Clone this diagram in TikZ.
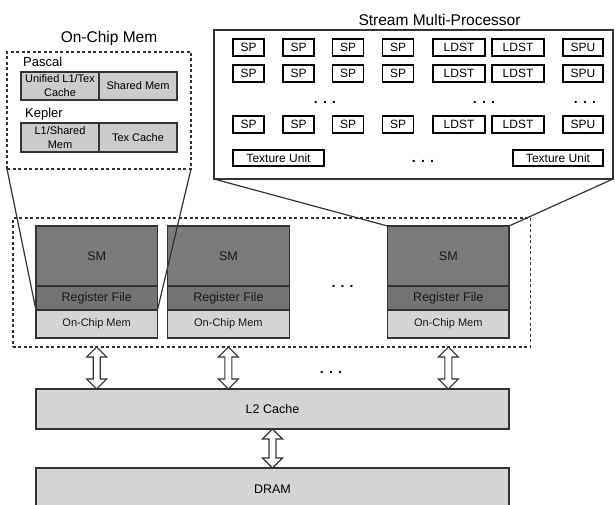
\documentclass[tikz,border=0pt]{standalone}
\usepackage{fontspec}
\setmainfont{Liberation Sans}
\usetikzlibrary{positioning, calc}

\definecolor{edgegray}{HTML}{333333}
\definecolor{smgray}{HTML}{7B7B7B}
\definecolor{rfgray}{HTML}{737373}
\definecolor{memgray}{HTML}{D4D4D4}
\definecolor{cellgray}{HTML}{CBCBCB}

% outline double arrow between two points on one vertical
\newcommand{\memarrow}[2]{%
  \path[draw=edgegray, fill=white, line width=1.1pt, line join=miter]
    let \p1=(#1), \p2=(#2) in
    (\x1,\y1) -- ++(10pt,-10pt) -- ++(-6.5pt,0pt) -- (\x1+3.5pt,\y2+10pt)
    -- ++(6.5pt,0pt) -- (\x1,\y2) -- ++(-10pt,10pt) -- ++(6.5pt,0pt)
    -- (\x1-3.5pt,\y1-10pt) -- ++(-6.5pt,0pt) -- cycle;}

\begin{document}
\begin{tikzpicture}[x=1pt, y=-1pt,
    title/.style={font=\fontsize{15.5}{18}\selectfont, inner sep=0pt},
    dashbox/.style={draw=edgegray, line width=1.2pt, dash pattern=on 3pt off 2.5pt, outer sep=0pt},
    framebox/.style={draw=edgegray, line width=1.3pt, outer sep=0pt},
    unitbox/.style={draw=black, line width=1.2pt, fill=white, minimum height=17, inner sep=0pt, outer sep=0pt, font=\fontsize{12}{14}\selectfont},
    memcell/.style={draw=edgegray, line width=1.2pt, fill=cellgray, minimum width=78, inner sep=0pt, outer sep=0pt, align=center, font=\fontsize{11}{14}\selectfont},
    smpart/.style={draw=edgegray, line width=1.2pt, minimum width=121.5, inner sep=0pt, outer sep=0pt, text=black!90},
    smblock/.style={smpart, fill=smgray, minimum height=60, font=\fontsize{12.5}{14}\selectfont},
    rfblock/.style={smpart, fill=rfgray, minimum height=24, font=\fontsize{12.5}{14}\selectfont},
    ocmblock/.style={smpart, fill=memgray, minimum height=28, font=\fontsize{11}{14}\selectfont},
    memblock/.style={draw=edgegray, line width=1.2pt, fill=memgray, minimum width=473, inner sep=0pt, outer sep=0pt, font=\fontsize{12.5}{14}\selectfont},
    dots/.style={font=\fontsize{14}{14}\bfseries, inner sep=0pt},
    label/.style={font=\fontsize{13}{15}\selectfont, inner sep=0pt, anchor=west},
    zoomline/.style={draw=edgegray, line width=1.2pt}
  ]
    \useasboundingbox (0,0) rectangle (615,505);

    % On-chip memory detail
    \node[title] (onchiptitle) at (109,38) {On-Chip Mem};
    \node[dashbox, minimum width=184, minimum height=117] (onchip) at (99,110.5) {};
    \node[label] (pascal) at (23,62) {Pascal};
    \node[memcell, minimum height=28] (unified) at (60,86) {Unified L1/Tex\\Cache};
    \node[memcell, minimum height=28, right=0pt of unified] (pshared) {Shared Mem};
    \node[label] (kepler) at (25,114) {Kepler};
    \node[memcell, minimum height=29] (l1shared) at (60,137.5) {L1/Shared\\Mem};
    \node[memcell, minimum height=29, right=0pt of l1shared] (texcache) {Tex Cache};

    % Stream multi-processor detail
    \node[title] (smptitle) at (439.5,19.5) {Stream Multi-Processor};
    \node[framebox, minimum width=399, minimum height=149] (smp) at (413.5,104.5) {};
    \foreach \y [count=\r] in {47.5,73.5,124.5} {
      \foreach \x [count=\c] in {248.5,298.5,348,398}
        \node[unitbox, minimum width=31] (sp\r\c) at (\x,\y) {SP};
      \node[unitbox, minimum width=52] (ldsta\r) at (459,\y) {LDST};
      \node[unitbox, minimum width=52] (ldstb\r) at (518,\y) {LDST};
      \node[unitbox, minimum width=40] (spu\r) at (583,\y) {SPU};
    }
    \node[dots] (spdots) at (325,102) {. . .};
    \node[dots] (ldstdots) at (484,102) {. . .};
    \node[dots] (spudots) at (585,102) {. . .};
    \node[unitbox, minimum width=91, minimum height=16] (texunit1) at (278.5,158) {Texture Unit};
    \node[unitbox, minimum width=90, minimum height=16] (texunit2) at (558,158) {Texture Unit};
    \node[dots] (texdots) at (423,161) {. . .};

    % Streaming multiprocessors
    \node[dashbox, minimum width=517.6, minimum height=129] (gpc) at (271.7,282.5) {};
    \node[smblock] (sm1) at (96.7,256) {SM};
    \node[rfblock, below=0pt of sm1] (rf1) {Register File};
    \node[ocmblock, below=0pt of rf1] (ocm1) {On-Chip Mem};
    \node[smblock, right=10.2pt of sm1] (sm2) {SM};
    \node[rfblock, below=0pt of sm2] (rf2) {Register File};
    \node[ocmblock, below=0pt of rf2] (ocm2) {On-Chip Mem};
    \node[smblock] (sm3) at (448.3,256) {SM};
    \node[rfblock, below=0pt of sm3] (rf3) {Register File};
    \node[ocmblock, below=0pt of rf3] (ocm3) {On-Chip Mem};
    \node[dots] (smdots) at (342.6,286) {. . .};

    % Zoom lines
    \draw[zoomline] (onchip.south west) -- (rf1.south west);
    \draw[zoomline] (onchip.south east) -- (rf1.south east);
    \draw[zoomline] (smp.south west) -- (sm3.north west);
    \draw[zoomline] (smp.south east) -- (sm3.north east);

    % Memory hierarchy
    \node[memblock, minimum height=40] (l2) at (272.5,409) {L2 Cache};
    \node[memblock, minimum height=43] (dram) at (272.5,489.5) {DRAM};
    \node[dots] (busdots) at (331,372) {. . .};

    % Connections
    \memarrow{sm1|-gpc.south}{sm1|-l2.north}
    \memarrow{sm2|-gpc.south}{sm2|-l2.north}
    \memarrow{sm3|-gpc.south}{sm3|-l2.north}
    \memarrow{l2.south}{dram.north}

  \end{tikzpicture}
\end{document}
